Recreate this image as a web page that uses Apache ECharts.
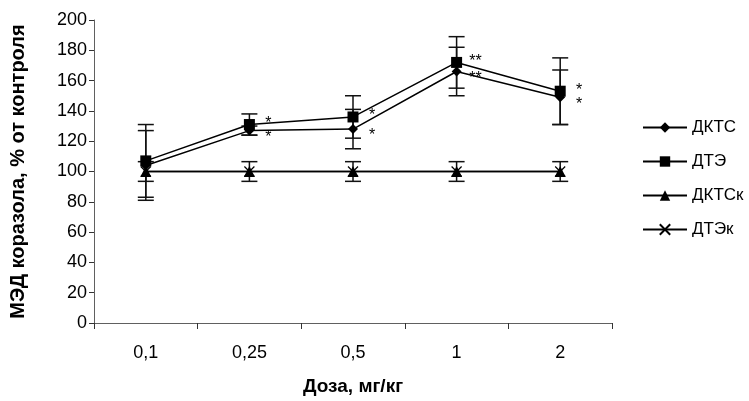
<!DOCTYPE html>
<html><head><meta charset="utf-8">
<script src="https://cdn.jsdelivr.net/npm/echarts@6/dist/echarts.min.js"></script>
<style>html,body{margin:0;padding:0;background:#fff}#c{width:749px;height:401px}</style>
</head><body><div id="c"></div>
<script>
var categories = ['0,1', '0,25', '0,5', '1', '2'];
var yTicks = [0, 20, 40, 60, 80, 100, 120, 140, 160, 180, 200];
var dktsValues = [104, 127, 128, 166, 149];
var dktsErrors = [23, 3, 13, 16, 18];
var dktsStars = ['', '*', '*', '**', '*'];
var dteValues = [107, 131, 136, 172, 153];
var dteErrors = [24, 7, 14, 17, 22];
var dteStars = ['', '*', '*', '**', '*'];
var dktsKValues = [100, 100, 100, 100, 100];
var dktsKErrors = [6.5, 6.5, 6.5, 6.5, 6.5];
var dteKValues = [100, 100, 100, 100, 100];

var FONT = '"Liberation Sans", Arial, sans-serif';
var chart = echarts.init(document.getElementById('c'), null, {renderer: 'canvas'});

function errData(vals, errs) {
  return vals.map(function (v, i) { return [i, v - errs[i], v + errs[i]]; });
}
function errSeries(vals, errs) {
  return {
    type: 'custom', silent: true, z: 1,
    data: errData(vals, errs),
    renderItem: function (params, api) {
      var lo = api.coord([api.value(0), api.value(1)]);
      var hi = api.coord([api.value(0), api.value(2)]);
      var w = 8;
      var st = {stroke: '#111', lineWidth: 1.5};
      return {type: 'group', children: [
        {type: 'line', shape: {x1: lo[0], y1: lo[1], x2: hi[0], y2: hi[1]}, style: st},
        {type: 'line', shape: {x1: lo[0] - w, y1: lo[1], x2: lo[0] + w, y2: lo[1]}, style: st},
        {type: 'line', shape: {x1: hi[0] - w, y1: hi[1], x2: hi[0] + w, y2: hi[1]}, style: st}
      ]};
    }
  };
}
function starLabel(stars, dy) {
  return {
    show: true, position: 'inside', offset: [19, dy],
    color: '#000', fontFamily: FONT, fontSize: 16,
    formatter: function (p) { return stars[p.dataIndex]; }
  };
}

var option = {
  animation: false,
  backgroundColor: '#fff',
  grid: {left: 92, right: 137, top: 20, bottom: 77},
  legend: {
    orient: 'vertical', left: 637, top: 114,
    itemWidth: 44, itemHeight: 13, itemGap: 17,
    textStyle: {fontFamily: FONT, fontSize: 17, color: '#000'},
    data: ['ДКТС', 'ДТЭ', 'ДКТСк', 'ДТЭк']
  },
  xAxis: {
    type: 'category', data: categories, boundaryGap: true,
    name: 'Доза, мг/кг', nameLocation: 'middle', nameGap: 54,
    nameTextStyle: {fontFamily: FONT, fontSize: 19, fontWeight: 'bold', color: '#000'},
    axisLine: {lineStyle: {color: '#606060', width: 1}},
    axisTick: {show: true, alignWithLabel: false, length: 6, lineStyle: {color: '#333'}},
    axisLabel: {fontFamily: FONT, fontSize: 18, color: '#000', margin: 21},
    splitLine: {show: false}
  },
  yAxis: {
    type: 'value', min: 0, max: 200, interval: 20,
    name: 'МЭД коразола, % от контроля', nameLocation: 'middle', nameGap: 66, nameRotate: 90,
    nameTextStyle: {fontFamily: FONT, fontSize: 20, fontWeight: 'bold', color: '#000'},
    axisLine: {show: true, lineStyle: {color: '#606060', width: 1}},
    axisTick: {show: true, length: 5, lineStyle: {color: '#333'}},
    axisLabel: {fontFamily: FONT, fontSize: 18, color: '#000', margin: 7,
      formatter: function (v) { return yTicks.indexOf(v) >= 0 ? String(v) : ''; }},
    splitLine: {show: false}
  },
  series: [
    errSeries(dktsValues, dktsErrors),
    errSeries(dteValues, dteErrors),
    errSeries(dktsKValues, dktsKErrors),
    {
      name: 'ДКТС', type: 'line', data: dktsValues, z: 3,
      symbol: 'diamond', symbolSize: 10,
      lineStyle: {color: '#000', width: 1.5}, itemStyle: {color: '#000'},
      label: starLabel(dktsStars, 7)
    },
    {
      name: 'ДТЭ', type: 'line', data: dteValues, z: 4,
      symbol: 'rect', symbolSize: 11,
      lineStyle: {color: '#000', width: 1.5}, itemStyle: {color: '#000'},
      label: starLabel(dteStars, -1)
    },
    {
      name: 'ДКТСк', type: 'line', data: dktsKValues, z: 3,
      symbol: 'triangle', symbolSize: 11,
      lineStyle: {color: '#000', width: 1.5}, itemStyle: {color: '#000'}
    },
    {
      name: 'ДТЭк', type: 'line', data: dteKValues, z: 3,
      symbol: 'path://M0,0L10,10M10,0L0,10', symbolSize: 10,
      lineStyle: {color: '#000', width: 1.5},
      itemStyle: {color: 'none', borderColor: '#000', borderWidth: 1.2}
    }
  ]
};
chart.setOption(option);
</script></body></html>
